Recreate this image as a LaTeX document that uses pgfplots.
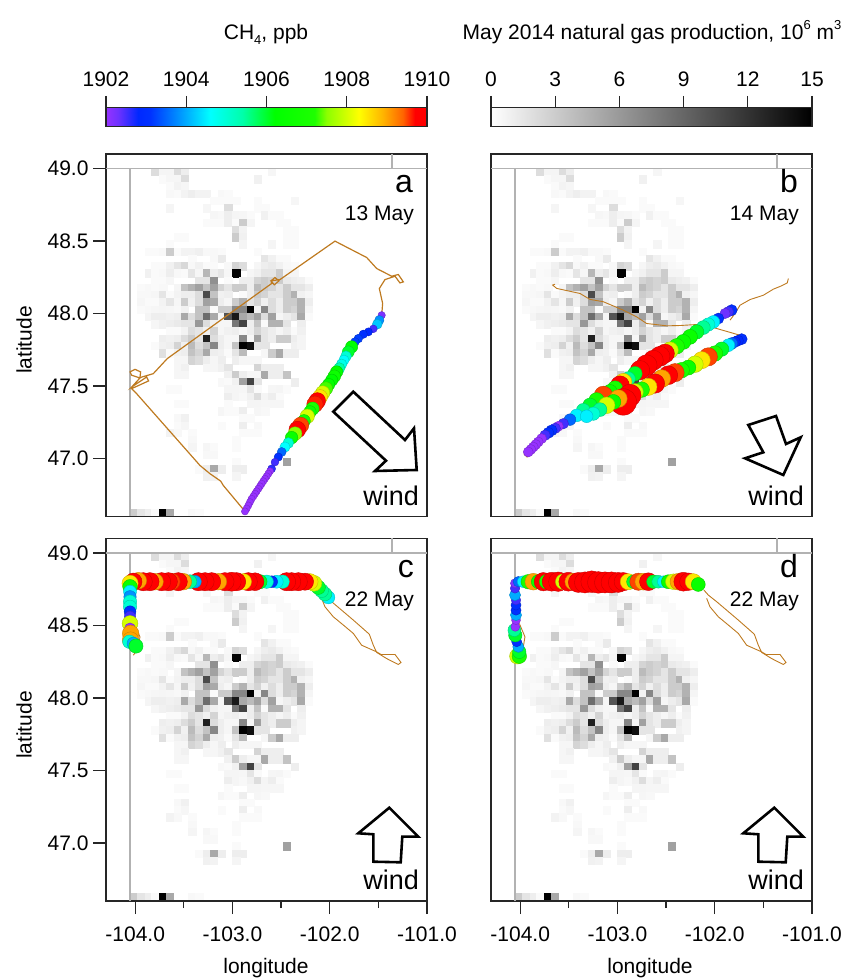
\documentclass[border=0pt]{standalone}
\usepackage{pgfplots}
\usepackage{pgfplotstable}
\usepackage{fontspec}
\setmainfont{Liberation Sans}
\pgfplotsset{compat=1.18}
\newcommand{\ff}{\fontsize{21}{24}\selectfont}
\pgfplotsset{
 colormap={ch4}{rgb255(0pt)=(150,50,255); rgb255(3pt)=(110,50,255); rgb255(8pt)=(0,40,255); rgb255(11pt)=(0,50,255); rgb255(17pt)=(0,130,255); rgb255(26pt)=(0,255,255); rgb255(34pt)=(0,255,170); rgb255(42pt)=(0,255,0); rgb255(52pt)=(30,255,0); rgb255(55pt)=(140,255,0); rgb255(63pt)=(255,255,0); rgb255(69pt)=(255,180,0); rgb255(74pt)=(255,100,0); rgb255(77pt)=(255,0,0); rgb255(80pt)=(255,0,0)},
 colormap={prod}{rgb255(0pt)=(255,255,255); rgb255(15pt)=(0,0,0)},
 panel/.style={scale only axis, width=321pt, height=362.5pt, xmin=-104.3, xmax=-101, ymin=46.6, ymax=49.1,
   point meta min=0, point meta max=1,
   axis line style={line width=1.4pt, black!85}, tick style={line width=1.2pt, black!85},
   tick align=outside, major tick length=13pt, minor tick length=7pt,
   tick label style={font=\ff}, xtick pos=bottom, ytick pos=left,
   xticklabel style={yshift=-9pt}, yticklabel style={xshift=-1pt}},
 xt/.style={xtick={-104,-103,-102,-101}, minor xtick={-103.5,-102.5,-101.5}, xticklabels={-104.0,-103.0,-102.0,-101.0}},
 nox/.style={xtick=\empty},
 yt/.style={ytick={47,47.5,48,48.5,49}, yticklabels={47.0,47.5,48.0,48.5,49.0}},
 noy/.style={ytick=\empty},
 heatpts/.style={scatter, only marks, mark=square*, mark size=3.66, colormap name=prod, point meta={\thisrow{v}/15}, scatter/use mapped color={draw=mapped color, fill=mapped color, line width=0pt}},
 ch4pts/.style 2 args={scatter, only marks, mark=*, colormap name=ch4, point meta={(\thisrow{c}-1902)/8},
   visualization depends on={#1+#2*(\thisrow{c}-1902) \as \r}, scatter/@pre marker code/.append style={/tikz/mark size=\r}},
 track/.style={no markers, color={rgb,255:red,190;green,122;blue,32}, line width=1.2pt},
 bord/.style={no markers, color=black!30, line width=1.7pt},
 cbar/.style={scale only axis, width=321pt, height=19pt, ymin=0, ymax=1, ytick=\empty, axis on top,
   axis line style={line width=1.4pt, black!85}, tick style={line width=1.2pt, black!85},
   tick align=outside, major tick length=11.5pt, xtick pos=top, xticklabel pos=top, tick label style={font=\ff}, xticklabel style={yshift=6pt}},
}
\pgfplotstableread{
lon lat v
-103.79 48.975 2
-103.71 48.975 .6
-103.64 48.975 .6
-103.56 48.975 2
-103.49 48.975 1
-102.59 48.975 .5
-103.71 48.925 .3
-103.64 48.925 .5
-103.56 48.925 .5
-103.49 48.925 2
-102.74 48.925 .8
-103.64 48.875 .3
-103.56 48.875 .7
-103.49 48.875 .5
-103.64 48.825 .4
-103.56 48.825 .3
-103.49 48.825 .7
-103.41 48.825 1
-103.34 48.825 .7
-103.26 48.825 .7
-103.11 48.825 .4
-103.04 48.825 .3
-103.19 48.775 .3
-103.11 48.775 .3
-103.04 48.775 .3
-102.96 48.775 .3
-102.74 48.775 .3
-102.36 48.775 .5
-103.64 48.725 .6
-103.26 48.725 .5
-103.04 48.725 2
-102.74 48.725 .3
-102.66 48.725 .3
-103.19 48.675 .5
-103.11 48.675 .4
-103.04 48.675 1
-102.96 48.675 .6
-102.89 48.675 .5
-102.81 48.675 .3
-102.66 48.675 .8
-102.59 48.675 .3
-102.51 48.675 .3
-103.26 48.625 .3
-103.19 48.625 .3
-103.11 48.625 .3
-103.04 48.625 1
-102.96 48.625 .3
-102.89 48.625 3
-102.81 48.625 .6
-102.51 48.625 .3
-102.44 48.625 .3
-102.96 48.575 2
-102.89 48.575 .7
-102.44 48.575 .3
-102.36 48.575 .3
-103.56 48.525 .3
-103.49 48.525 .3
-102.96 48.525 3
-102.89 48.525 .8
-102.44 48.525 .3
-102.36 48.525 .3
-103.64 48.475 .3
-102.89 48.475 .6
-102.59 48.475 .6
-102.44 48.475 .3
-102.36 48.475 .3
-103.86 48.425 .3
-103.79 48.425 .3
-103.71 48.425 .4
-103.64 48.425 3
-103.56 48.425 .3
-103.49 48.425 .7
-103.41 48.425 .7
-103.34 48.425 .9
-103.26 48.425 .4
-103.19 48.425 .4
-103.11 48.425 .3
-102.74 48.425 .3
-103.41 48.375 .3
-103.19 48.375 .4
-103.11 48.375 1.2
-102.66 48.375 1.5
-102.59 48.375 .8
-102.51 48.375 .3
-102.44 48.375 .3
-103.79 48.325 .3
-103.71 48.325 .3
-103.64 48.325 .8
-103.56 48.325 1.5
-103.49 48.325 2.3
-103.41 48.325 .4
-103.34 48.325 .8
-103.26 48.325 .3
-103.19 48.325 .3
-103.04 48.325 .4
-102.96 48.325 2.5
-102.89 48.325 2
-102.74 48.325 .5
-102.66 48.325 1
-102.59 48.325 1.2
-102.51 48.325 .8
-102.44 48.325 .4
-102.36 48.325 .3
-103.86 48.275 .8
-103.79 48.275 .3
-103.71 48.275 .4
-103.64 48.275 1
-103.56 48.275 .4
-103.49 48.275 .3
-103.41 48.275 1.5
-103.34 48.275 .5
-103.26 48.275 4.2
-103.19 48.275 1
-103.11 48.275 1.5
-103.04 48.275 .5
-102.96 48.275 14.7
-102.81 48.275 .5
-102.74 48.275 .8
-102.66 48.275 1.5
-102.59 48.275 1.5
-102.51 48.275 3
-102.44 48.275 .6
-102.36 48.275 .6
-103.79 48.225 .3
-103.71 48.225 .3
-103.64 48.225 .5
-103.34 48.225 1.5
-103.26 48.225 1.5
-103.19 48.225 6.5
-103.04 48.225 .3
-102.89 48.225 1
-102.81 48.225 1
-102.74 48.225 2.5
-102.66 48.225 3
-102.59 48.225 2.5
-102.51 48.225 3
-102.44 48.225 1.2
-102.36 48.225 1
-102.29 48.225 .8
-102.21 48.225 .3
-103.94 48.175 .3
-103.86 48.175 .4
-103.79 48.175 .3
-103.71 48.175 .4
-103.56 48.175 .6
-103.49 48.175 3.5
-103.41 48.175 4.5
-103.34 48.175 5.5
-103.26 48.175 3.5
-103.19 48.175 5.5
-103.11 48.175 2.5
-103.04 48.175 1.5
-102.96 48.175 3
-102.89 48.175 3
-102.81 48.175 1
-102.74 48.175 4
-102.66 48.175 3
-102.59 48.175 2.5
-102.51 48.175 1.5
-102.44 48.175 3
-102.36 48.175 1.5
-102.29 48.175 1.5
-102.21 48.175 1
-103.94 48.125 .4
-103.86 48.125 .4
-103.79 48.125 .5
-103.71 48.125 1.5
-103.64 48.125 .3
-103.56 48.125 .7
-103.49 48.125 1
-103.41 48.125 1
-103.34 48.125 2
-103.26 48.125 10.5
-103.19 48.125 3.5
-103.11 48.125 .8
-103.04 48.125 1
-102.89 48.125 .3
-102.81 48.125 1
-102.74 48.125 3
-102.66 48.125 2.5
-102.59 48.125 1.5
-102.51 48.125 1.5
-102.44 48.125 3
-102.36 48.125 4.5
-102.29 48.125 .8
-102.21 48.125 .5
-103.94 48.075 .5
-103.86 48.075 .3
-103.79 48.075 .3
-103.71 48.075 .7
-103.64 48.075 1.5
-103.56 48.075 .5
-103.49 48.075 3
-103.41 48.075 .8
-103.34 48.075 2
-103.26 48.075 5.5
-103.19 48.075 5
-103.11 48.075 1
-103.04 48.075 .5
-102.96 48.075 3
-102.89 48.075 4.5
-102.81 48.075 1.5
-102.74 48.075 2.5
-102.66 48.075 .8
-102.59 48.075 2
-102.51 48.075 1
-102.44 48.075 3
-102.36 48.075 3
-102.29 48.075 4.5
-102.21 48.075 1
-103.94 48.025 .3
-103.86 48.025 .4
-103.79 48.025 .5
-103.71 48.025 .6
-103.64 48.025 .5
-103.56 48.025 .4
-103.49 48.025 .8
-103.34 48.025 3.5
-103.26 48.025 3.5
-103.19 48.025 .3
-103.11 48.025 3
-103.04 48.025 3
-102.96 48.025 7
-102.89 48.025 7
-102.81 48.025 15
-102.74 48.025 .7
-102.66 48.025 7
-102.59 48.025 2
-102.51 48.025 1
-102.44 48.025 3
-102.36 48.025 2.5
-102.29 48.025 4.5
-102.21 48.025 .6
-103.86 47.975 .6
-103.79 47.975 1
-103.71 47.975 1
-103.64 47.975 .8
-103.56 47.975 1
-103.49 47.975 5
-103.41 47.975 2
-103.34 47.975 3.5
-103.26 47.975 8.5
-103.19 47.975 5
-103.11 47.975 .5
-103.04 47.975 10
-102.96 47.975 13.5
-102.89 47.975 5
-102.81 47.975 4
-102.74 47.975 5.5
-102.66 47.975 2
-102.59 47.975 5.5
-102.51 47.975 .5
-102.44 47.975 1
-102.36 47.975 1.5
-102.29 47.975 5
-102.21 47.975 .3
-103.79 47.925 .5
-103.71 47.925 .8
-103.64 47.925 1
-103.56 47.925 1.2
-103.49 47.925 1.5
-103.41 47.925 1.5
-103.34 47.925 6
-103.26 47.925 2
-103.19 47.925 .8
-103.11 47.925 .5
-103.04 47.925 .5
-102.96 47.925 8
-102.89 47.925 11
-102.81 47.925 1
-102.74 47.925 3.5
-102.66 47.925 .3
-102.59 47.925 4.5
-102.51 47.925 4.5
-102.44 47.925 1.5
-102.29 47.925 1
-103.64 47.875 .3
-103.56 47.875 .3
-103.49 47.875 .7
-103.41 47.875 2
-103.34 47.875 1.5
-103.26 47.875 .8
-103.19 47.875 2.5
-103.11 47.875 .5
-103.04 47.875 .8
-102.96 47.875 1
-102.89 47.875 .5
-102.81 47.875 1
-102.74 47.875 2.5
-102.66 47.875 1.5
-102.59 47.875 1
-102.51 47.875 .5
-102.44 47.875 1
-102.36 47.875 .3
-102.29 47.875 .8
-103.71 47.825 1
-103.64 47.825 .8
-103.56 47.825 1
-103.49 47.825 2
-103.41 47.825 3
-103.34 47.825 1.5
-103.26 47.825 13
-103.19 47.825 2
-103.11 47.825 1
-103.04 47.825 .5
-102.96 47.825 .5
-102.89 47.825 7
-102.81 47.825 .5
-102.74 47.825 5.5
-102.66 47.825 1.5
-102.59 47.825 1
-102.51 47.825 3
-102.44 47.825 3
-102.36 47.825 1
-102.29 47.825 .6
-103.79 47.775 .3
-103.71 47.775 .8
-103.64 47.775 1
-103.56 47.775 2.5
-103.49 47.775 .8
-103.41 47.775 4
-103.34 47.775 2
-103.26 47.775 3.5
-103.19 47.775 7
-103.11 47.775 1
-103.04 47.775 .5
-102.96 47.775 3.5
-102.89 47.775 15
-102.81 47.775 14
-102.74 47.775 1.5
-102.66 47.775 1.5
-102.36 47.775 .8
-102.29 47.775 .6
-103.71 47.725 1.8
-103.64 47.725 .3
-103.56 47.725 .8
-103.49 47.725 1
-103.41 47.725 3.5
-103.34 47.725 2.5
-103.26 47.725 5
-103.19 47.725 1
-103.11 47.725 .8
-103.04 47.725 .3
-102.96 47.725 1.5
-102.89 47.725 4
-102.66 47.725 .5
-102.59 47.725 3
-102.51 47.725 5
-102.44 47.725 1
-102.36 47.725 1
-103.56 47.675 .5
-103.49 47.675 .5
-103.41 47.675 2.5
-103.34 47.675 2
-103.26 47.675 1
-103.19 47.675 .5
-103.11 47.675 1
-102.96 47.675 1
-102.89 47.675 .5
-102.81 47.675 .5
-102.74 47.675 .5
-103.56 47.625 .5
-103.49 47.625 .8
-103.26 47.625 .5
-103.19 47.625 .5
-103.11 47.625 .8
-103.04 47.625 1.5
-102.74 47.625 2.5
-102.66 47.625 1
-102.59 47.625 1
-102.51 47.625 1
-103.56 47.575 .5
-103.49 47.575 .5
-103.04 47.575 .8
-102.96 47.575 3
-102.89 47.575 1
-102.81 47.575 .5
-102.74 47.575 .5
-102.66 47.575 5
-102.59 47.575 1
-102.51 47.575 1
-102.44 47.575 3.5
-103.11 47.525 .4
-103.04 47.525 .3
-102.96 47.525 .8
-102.89 47.525 5.5
-102.81 47.525 11
-102.74 47.525 1.5
-102.36 47.525 1
-103.64 47.475 .3
-103.56 47.475 .3
-103.04 47.475 .6
-102.96 47.475 .6
-102.89 47.475 .5
-102.81 47.475 1.5
-102.74 47.475 .3
-102.59 47.475 .5
-102.51 47.475 .6
-102.44 47.475 .3
-103.04 47.425 1
-102.96 47.425 .6
-102.89 47.425 .4
-102.81 47.425 .8
-102.74 47.425 2
-102.66 47.425 .6
-102.59 47.425 1
-102.51 47.425 .3
-103.56 47.375 .3
-103.49 47.375 .3
-103.04 47.375 .3
-102.81 47.375 .6
-102.74 47.375 .6
-102.66 47.375 .5
-102.59 47.375 .5
-102.51 47.375 .5
-103.11 47.325 .5
-103.04 47.325 .3
-102.96 47.325 .3
-102.89 47.325 1
-102.74 47.325 .5
-102.66 47.325 .4
-103.56 47.275 .4
-103.49 47.275 .8
-102.89 47.275 .3
-102.81 47.275 .3
-103.56 47.225 .3
-103.49 47.225 .5
-103.11 47.225 .3
-102.89 47.225 1
-102.74 47.225 .4
-103.64 47.175 .7
-103.56 47.175 .4
-103.41 47.175 .3
-102.89 47.175 .3
-102.81 47.175 .3
-102.74 47.175 .3
-103.41 47.125 .4
-102.96 47.125 .3
-103.41 47.075 .6
-103.26 47.075 .5
-103.19 47.075 .3
-102.96 47.075 .3
-103.26 47.025 .4
-103.19 47.025 .4
-102.96 46.975 .3
-102.44 46.975 5.5
-103.34 46.925 .3
-103.26 46.925 1
-103.19 46.925 5
-103.11 46.925 1
-102.96 46.925 1
-102.89 46.925 1
-103.26 46.875 .8
-103.19 46.875 .7
-102.96 46.875 .6
-104.01 46.625 3
-103.94 46.625 1.5
-103.86 46.625 1
-103.79 46.625 .3
-103.71 46.625 15
-103.64 46.625 5
-103.41 46.625 .4
-103.34 46.625 .3
}\heat
\pgfplotstableread{
lon lat
-102.083 48.687
-102.049 48.629
-101.963 48.560
-101.860 48.503
-101.757 48.445
-101.672 48.364
-101.517 48.318
-101.472 48.300
-101.329 48.300
-101.267 48.245
-101.295 48.231
-101.415 48.272
-101.517 48.314
-101.552 48.364
-101.593 48.440
-101.757 48.537
-101.980 48.664
-102.066 48.710
-102.111 48.744
}\trackcd
\begin{document}
\begin{tikzpicture}[x=1pt,y=1pt]
\path[use as bounding box] (0,0) rectangle (847,979);
% colour bars
\begin{axis}[cbar, at={(106pt,852.5pt)}, anchor=south west, xmin=1902, xmax=1910, xtick={1902,1904,1906,1908,1910}, xticklabels={1902,1904,1906,1908,1910}, colormap name=ch4]
\addplot[surf, shader=interp, point meta=x] coordinates {(1902,0) (1910,0)

(1902,1) (1910,1)};
\end{axis}
\begin{axis}[cbar, at={(491pt,852.5pt)}, anchor=south west, xmin=0, xmax=15, xtick={0,3,6,9,12,15}, xticklabels={0,3,6,9,12,15}, colormap name=prod]
\addplot[surf, shader=interp, point meta=x] coordinates {(0,0) (15,0)

(0,1) (15,1)};
\end{axis}
% heat maps, one axis below each panel
\begin{axis}[panel, hide axis, at={(106pt,462.5pt)}, anchor=south west]
\addplot[heatpts] table[x=lon,y=lat] {\heat};
\end{axis}
\begin{axis}[panel, hide axis, at={(491pt,462.5pt)}, anchor=south west]
\addplot[heatpts] table[x=lon,y=lat] {\heat};
\end{axis}
\begin{axis}[panel, hide axis, at={(106pt,78pt)}, anchor=south west]
\addplot[heatpts] table[x=lon,y=lat] {\heat};
\end{axis}
\begin{axis}[panel, hide axis, at={(491pt,78pt)}, anchor=south west]
\addplot[heatpts] table[x=lon,y=lat] {\heat};
\end{axis}
% panel a
\begin{axis}[panel, nox, yt, at={(106pt,462.5pt)}, anchor=south west]
\addplot[bord] coordinates {(-104.05,46.6) (-104.05,49) (-104.3,49) (-101,49)};
\addplot[bord] coordinates {(-101.36,49) (-101.36,49.1)};
\addplot[track] coordinates {(-102.871,46.635) (-103.094,46.814) (-103.121,46.844) (-103.231,46.895) (-103.334,46.952) (-103.985,47.447) (-104.036,47.482) (-103.862,47.535) (-103.882,47.562) (-104.036,47.493) (-103.951,47.555) (-104.036,47.574) (-104.053,47.597) (-104.002,47.615) (-103.944,47.597) (-103.951,47.558) (-103.814,47.585) (-103.670,47.689) (-102.597,48.207) (-102.604,48.225) (-102.563,48.248) (-102.522,48.225) (-102.570,48.198) (-102.604,48.225) (-102.511,48.234) (-101.946,48.499) (-101.620,48.386) (-101.517,48.310) (-101.363,48.257) (-101.295,48.269) (-101.243,48.218) (-101.278,48.211) (-101.329,48.257) (-101.432,48.234) (-101.490,48.172) (-101.456,48.069) (-101.466,47.988)};
\addplot[ch4pts={3.6}{0.6}] table[x=lon,y=lat] {
lon lat c
-101.466 47.988 1902.2
-101.490 47.954 1903.8
-101.511 47.926 1904.2
-101.552 47.894 1902.5
-101.603 47.873 1902.8
-101.655 47.857 1903
-101.706 47.827 1903.2
-101.740 47.804 1903.2
-101.775 47.770 1906.2
-101.809 47.735 1906
-101.833 47.705 1905
-101.854 47.678 1904.6
-101.878 47.650 1904.8
-101.902 47.622 1905.4
-101.929 47.597 1906.3
-101.953 47.567 1906.6
-101.980 47.540 1906.2
-102.011 47.510 1906.3
-102.039 47.482 1907.3
-102.073 47.452 1908
-102.100 47.424 1908.5
-102.128 47.397 1909.8
-102.152 47.374 1909.6
-102.176 47.344 1907
-102.203 47.321 1906.5
-102.231 47.291 1908
-102.265 47.259 1906.7
-102.299 47.229 1909.5
-102.333 47.199 1910
-102.357 47.171 1907.5
-102.392 47.144 1906.5
-102.426 47.107 1905
-102.460 47.079 1904.6
-102.494 47.045 1903.5
-102.529 47.010 1903
-102.563 46.975 1902.5
-102.597 46.929 1902.6
-102.614 46.912 1902
-102.631 46.895 1902
-102.648 46.877 1902
-102.666 46.860 1902
-102.683 46.843 1902
-102.700 46.826 1902
-102.717 46.808 1902
-102.734 46.791 1902
-102.751 46.774 1902
-102.768 46.757 1902
-102.785 46.739 1902
-102.803 46.722 1902
-102.820 46.699 1902
-102.837 46.676 1902
-102.854 46.655 1902
-102.871 46.635 1902
};
\end{axis}
% panel b
\begin{axis}[panel, nox, noy, at={(491pt,462.5pt)}, anchor=south west]
\addplot[bord] coordinates {(-104.05,46.6) (-104.05,49) (-104.3,49) (-101,49)};
\addplot[bord] coordinates {(-101.36,49) (-101.36,49.1)};
\addplot[track,line width=.9pt] coordinates {(-101.243,48.241) (-101.254,48.211) (-101.312,48.191) (-101.397,48.168) (-101.500,48.126) (-101.637,48.096) (-101.740,48.057) (-101.791,48.000) (-101.843,47.954)};
\addplot[track,line width=.9pt] coordinates {(-101.740,47.850) (-102.014,47.903) (-102.186,47.924) (-102.357,47.917) (-102.494,47.915) (-102.700,47.931) (-102.803,47.977) (-102.940,48.023) (-103.145,48.081) (-103.282,48.097) (-103.385,48.138) (-103.625,48.173) (-103.666,48.196) (-103.642,48.202)};
\addplot[track,line width=.9pt] coordinates {(-103.88,47.07) (-103.93,47.01) (-103.96,47.03) (-103.93,47.06)};
\addplot[ch4pts={5}{0.55}] table[x=lon,y=lat] {
lon lat c
-101.826 48.023 1903
-101.860 48.012 1902.5
-101.894 48.000 1902.3
-101.963 47.965 1903
-102.014 47.942 1904.5
-102.066 47.924 1905
-102.117 47.903 1905.5
-102.186 47.873 1906
-102.254 47.839 1906.5
-102.323 47.804 1906.5
-102.391 47.774 1907
-102.460 47.747 1908
-102.511 47.724 1910
-102.563 47.705 1911
-102.631 47.678 1911
-102.700 47.643 1912
-102.768 47.609 1910.5
-102.820 47.585 1906
-102.888 47.551 1905.5
-102.940 47.528 1908.5
-102.974 47.505 1910
-103.025 47.482 1907
-103.077 47.459 1906.5
-103.145 47.436 1909.5
-103.214 47.401 1907
-103.282 47.367 1906
-103.351 47.332 1905.5
-103.420 47.297 1904.5
-103.488 47.268 1903.5
-103.557 47.240 1902.5
-103.608 47.222 1902
-103.640 47.208 1902.5
-103.677 47.194 1903
-103.710 47.177 1903
-103.745 47.160 1902.5
-103.780 47.137 1902
-103.814 47.114 1902
-103.840 47.096 1902
-103.865 47.079 1902
-103.890 47.062 1902
-103.917 47.045 1902
-101.723 47.823 1903
-101.760 47.813 1902.8
-101.791 47.804 1902.8
-101.825 47.793 1903.5
-101.860 47.781 1904.5
-101.929 47.754 1906
-101.997 47.724 1907
-102.066 47.701 1909.5
-102.134 47.678 1908.5
-102.203 47.650 1908
-102.271 47.627 1906.5
-102.340 47.609 1907
-102.408 47.592 1909.5
-102.477 47.574 1910
-102.545 47.551 1909
-102.614 47.517 1910.5
-102.682 47.494 1908.5
-102.751 47.475 1907
-102.820 47.459 1908
-102.871 47.436 1913
-102.940 47.390 1917
-102.991 47.413 1909
-103.042 47.390 1906.5
-103.111 47.367 1908
-103.180 47.337 1905.5
-103.248 47.309 1905
-103.317 47.291 1904.5
};
\end{axis}
% panel c
\begin{axis}[panel, xt, yt, at={(106pt,78pt)}, anchor=south west]
\addplot[bord] coordinates {(-104.05,46.6) (-104.05,49) (-104.3,49) (-101,49)};
\addplot[bord] coordinates {(-101.36,49) (-101.36,49.1)};
\addplot[track,line width=.9pt] table[x=lon,y=lat] {\trackcd};
\addplot[track,line width=.9pt] coordinates {(-104.002,48.503) (-103.951,48.422) (-103.968,48.342) (-104.019,48.295)};
\addplot[ch4pts={5.5}{0.4}] table[x=lon,y=lat] {
lon lat c
-102.014 48.694 1904.5
-102.049 48.717 1905.5
-102.083 48.740 1905.5
-102.117 48.763 1906
-102.162 48.791 1908
-102.203 48.802 1908.5
-102.254 48.802 1909.7
-102.323 48.802 1911
-102.391 48.802 1911
-102.443 48.802 1911
-102.484 48.802 1905
-102.545 48.802 1904.5
-102.597 48.802 1903
-102.648 48.802 1905
-102.717 48.802 1906
-102.768 48.802 1910.5
-102.837 48.802 1911
-102.888 48.802 1908.5
-102.957 48.802 1911
-103.008 48.802 1912
-103.077 48.802 1911
-103.145 48.802 1909
-103.214 48.802 1911
-103.282 48.802 1911
-103.351 48.802 1911
-103.385 48.802 1904
-103.437 48.802 1905.5
-103.505 48.802 1909
-103.557 48.802 1911
-103.625 48.802 1909.5
-103.659 48.802 1911
-103.728 48.802 1911
-103.796 48.802 1909
-103.848 48.802 1911
-103.917 48.802 1911
-103.968 48.809 1909
-104.019 48.802 1910
-104.053 48.791 1908.5
-104.053 48.767 1906.5
-104.053 48.733 1904.5
-104.053 48.698 1903.8
-104.053 48.664 1905
-104.053 48.629 1905
-104.053 48.595 1903
-104.053 48.560 1902.5
-104.053 48.514 1908
-104.053 48.480 1902
-104.047 48.445 1909
-104.047 48.399 1909
-104.060 48.388 1905
-104.019 48.376 1904
-103.992 48.358 1906
};
\end{axis}
% panel d
\begin{axis}[panel, xt, noy, at={(491pt,78pt)}, anchor=south west]
\addplot[bord] coordinates {(-104.05,46.6) (-104.05,49) (-104.3,49) (-101,49)};
\addplot[bord] coordinates {(-101.36,49) (-101.36,49.1)};
\addplot[track,line width=.9pt] table[x=lon,y=lat] {\trackcd};
\addplot[track,line width=.9pt] coordinates {(-104.009,48.514) (-103.951,48.422) (-103.968,48.353)};
\addplot[ch4pts={4.5}{0.55}] table[x=lon,y=lat] {
lon lat c
-104.029 48.288 1908
-104.009 48.288 1907
-104.009 48.318 1906
-104.019 48.353 1904
-104.036 48.388 1903
-104.050 48.433 1906
-104.060 48.468 1905.5
-104.050 48.491 1902
-104.043 48.537 1902
-104.043 48.572 1904
-104.043 48.606 1903
-104.043 48.641 1903
-104.043 48.675 1902.5
-104.053 48.710 1904
-104.053 48.756 1902.5
-104.053 48.791 1902.2
-104.019 48.802 1903.5
-103.968 48.802 1904.5
-103.917 48.802 1907
-103.865 48.802 1909
-103.814 48.802 1906.5
-103.762 48.802 1910.5
-103.728 48.802 1907
-103.677 48.802 1911
-103.608 48.802 1911.5
-103.557 48.802 1908
-103.505 48.802 1911
-103.454 48.802 1909
-103.402 48.797 1912
-103.334 48.797 1913
-103.265 48.802 1913.5
-103.197 48.797 1913.5
-103.128 48.797 1913
-103.060 48.797 1913
-102.991 48.797 1912
-102.940 48.802 1910.5
-102.888 48.802 1908.5
-102.837 48.802 1906
-102.785 48.802 1909.5
-102.734 48.802 1909
-102.682 48.802 1910
-102.631 48.802 1906
-102.580 48.802 1905.5
-102.528 48.802 1904.5
-102.477 48.802 1906.5
-102.426 48.802 1908
-102.374 48.802 1909
-102.323 48.802 1911
-102.271 48.802 1909.7
-102.220 48.802 1908.5
-102.169 48.783 1906.5
};
\end{axis}
% labels
\begin{scope}[font=\ff]
\node[anchor=base] at (266,939) {CH\raisebox{-.22em}{\fontsize{13}{13}\selectfont 4}, ppb};
\node[anchor=base] at (652,939) {May 2014 natural gas production, 10\raisebox{.5em}{\fontsize{13}{13}\selectfont 6} m\raisebox{.5em}{\fontsize{13}{13}\selectfont 3}};
\node[anchor=center] at (266,11) {longitude};
\node[anchor=center] at (650,11) {longitude};
\node[rotate=90,anchor=center] at (24,639) {latitude};
\node[rotate=90,anchor=center] at (24,254) {latitude};
\node[anchor=base east,inner sep=0pt] at (414,758) {13 May};
\node[anchor=base east,inner sep=0pt] at (799,758) {14 May};
\node[anchor=base east,inner sep=0pt] at (414,372) {22 May};
\node[anchor=base east,inner sep=0pt] at (799,372) {22 May};
\end{scope}
\begin{scope}[font=\fontsize{32}{36}\selectfont]
\node[anchor=base east,inner sep=0pt] at (413,786) {a};
\node[anchor=base east,inner sep=0pt] at (798,786) {b};
\node[anchor=base east,inner sep=0pt] at (414,401) {c};
\node[anchor=base east,inner sep=0pt] at (798,401) {d};
\end{scope}
\begin{scope}[font=\fontsize{27}{30}\selectfont]
\node[anchor=base east,inner sep=0pt] at (419,473) {wind};
\node[anchor=base east,inner sep=0pt] at (804,473) {wind};
\node[anchor=base east,inner sep=0pt] at (419,89) {wind};
\node[anchor=base east,inner sep=0pt] at (804,89) {wind};
\end{scope}
\begin{scope}[shift={(0,979)},yscale=-1,line width=2.6pt,line join=miter]
\draw (353.3,391.7)--(405,440)--(414,428.3)--(416.7,470)--(375,471)--(386,460.7)--(333.3,411.7)--cycle;
\draw (748.3,425)--(776,416)--(786,444)--(800.7,437.3)--(783.3,475)--(745,458.3)--(763.3,452.3)--cycle;
\draw (389.3,807.7)--(418.3,836.7)--(402.3,836.7)--(400.7,862.3)--(373.3,861.7)--(373.3,834.3)--(358.3,833.3)--cycle;
\draw (774.3,807.7)--(803.3,836.7)--(787.3,836.7)--(785.7,862.3)--(758.3,861.7)--(758.3,834.3)--(743.3,833.3)--cycle;
\end{scope}
\end{tikzpicture}
\end{document}
